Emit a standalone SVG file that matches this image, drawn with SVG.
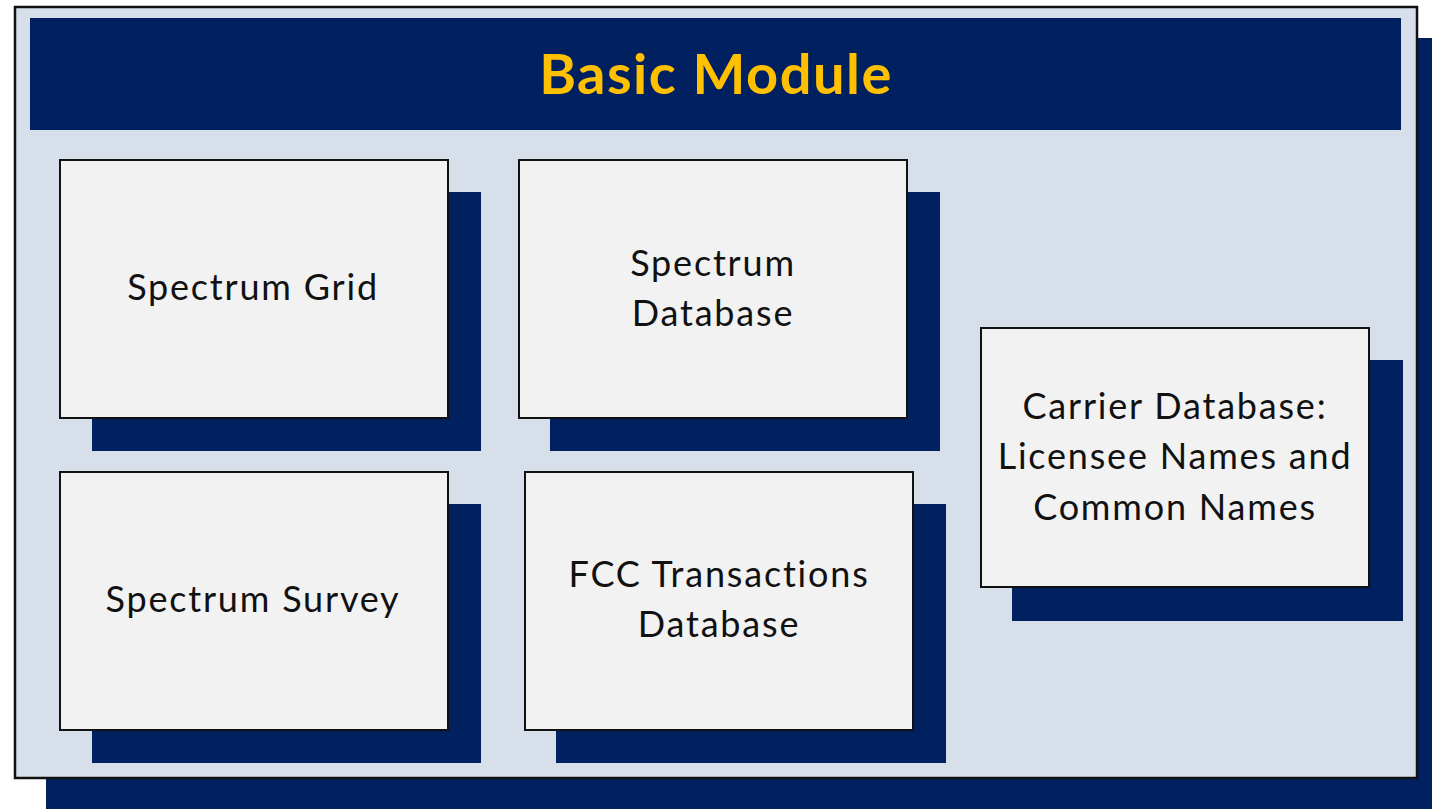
<svg xmlns="http://www.w3.org/2000/svg" width="1432" height="809" viewBox="0 0 1432 809">
<style>
.shadow{fill:#002060}
.box{fill:#f2f2f2;stroke:#111;stroke-width:2}
.lbl{font-family:Lato,"Open Sans",sans-serif;font-size:36px;letter-spacing:1.8px;fill:#111;text-anchor:middle}
.title{font-family:Lato,"Open Sans",sans-serif;font-size:56px;letter-spacing:1.5px;font-weight:bold;fill:#ffc000;text-anchor:middle}
</style>
<rect width="1432" height="809" fill="#ffffff"/>
<g id="module">
<rect class="shadow" x="46" y="38" width="1386" height="771"/>
<rect x="15" y="7" width="1402" height="771" fill="#d6dfea" stroke="#111" stroke-width="2.5"/>
<rect x="30" y="18" width="1371" height="112" fill="#002060"/>
<text class="title" x="716" y="94">Basic Module</text>
</g>
<g id="spectrum-grid">
<rect class="shadow" x="92" y="192" width="389" height="259"/>
<rect class="box" x="60" y="160" width="388" height="258"/>
<text class="lbl" x="253" y="300">Spectrum Grid</text>
</g>
<g id="spectrum-database">
<rect class="shadow" x="550" y="192" width="390" height="259"/>
<rect class="box" x="519" y="160" width="388" height="258"/>
<text class="lbl" x="713" y="276">Spectrum</text>
<text class="lbl" x="713" y="326">Database</text>
</g>
<g id="spectrum-survey">
<rect class="shadow" x="92" y="504" width="389" height="259"/>
<rect class="box" x="60" y="472" width="388" height="258"/>
<text class="lbl" x="253" y="612">Spectrum Survey</text>
</g>
<g id="fcc-transactions">
<rect class="shadow" x="556" y="504" width="390" height="259"/>
<rect class="box" x="525" y="472" width="388" height="258"/>
<text class="lbl" x="719" y="587">FCC Transactions</text>
<text class="lbl" x="719" y="637">Database</text>
</g>
<g id="carrier-database">
<rect class="shadow" x="1012" y="360" width="391" height="261"/>
<rect class="box" x="981" y="328" width="388" height="259"/>
<text class="lbl" x="1175" y="419">Carrier Database:</text>
<text class="lbl" x="1175" y="469">Licensee Names and</text>
<text class="lbl" x="1175" y="520">Common Names</text>
</g>
<g id="connectors"></g>
</svg>
